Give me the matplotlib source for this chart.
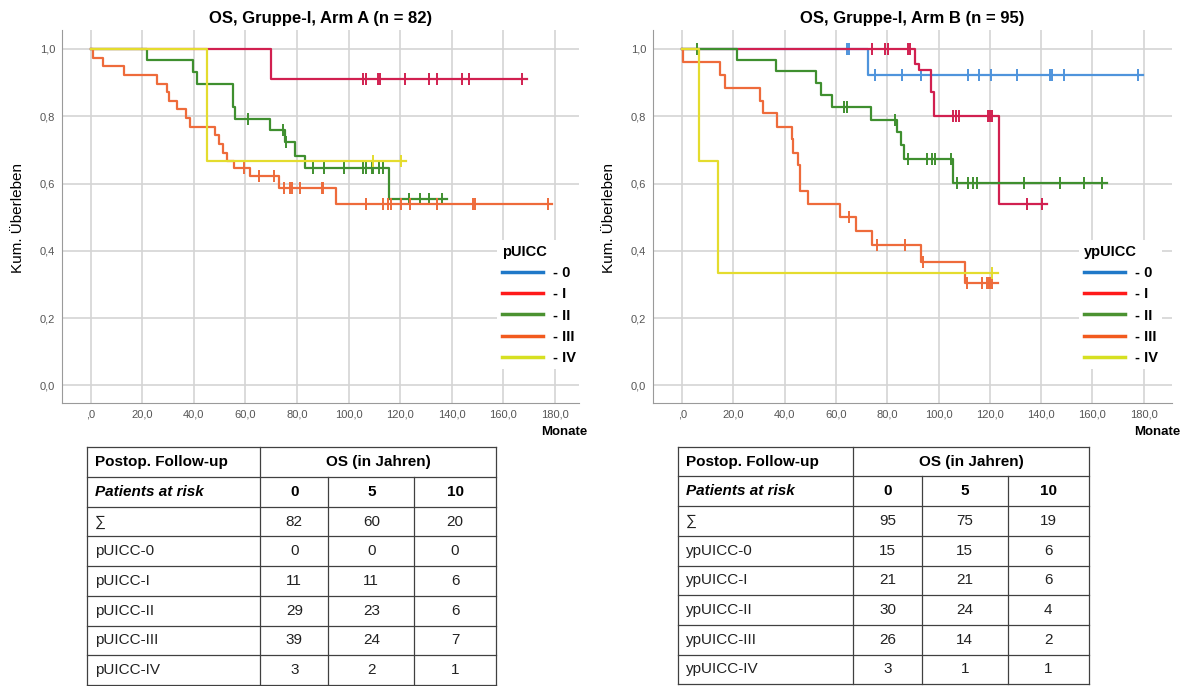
import numpy as np
import matplotlib
matplotlib.use("Agg")
import matplotlib.pyplot as plt
from matplotlib.lines import Line2D

plt.rcParams["font.family"] = ["Liberation Sans", "DejaVu Sans"]

W, H = 1187, 686

# ---------------- Arm A (pUICC) : event times / survival after step / censored times / last follow-up
a0_t, a0_s, a0_c, a0_end = [], [], [], None
a1_t = [0, 70.0]
a1_s = [1.0, 0.909]
a1_c = [105.7, 106.6, 111.5, 112.1, 121.7, 131.1, 134.1, 143.8, 146.7, 167.3]
a1_end = 169.0
a2_t = [0, 22.0, 39.8, 41.1, 55.0, 56.0, 69.5, 75.3, 79.4, 83.0, 115.6]
a2_s = [1.0, 0.966, 0.931, 0.897, 0.828, 0.793, 0.758, 0.722, 0.683, 0.646, 0.553]
a2_c = [61.0, 74.6, 75.6, 86.3, 90.4, 98.2, 105.7, 106.6, 108.9, 109.5, 111.7, 113.4,
        123.4, 127.7, 131.2, 136.3]
a2_end = 138.2
a3_t = [0, 1.0, 4.6, 13.0, 25.6, 29.7, 30.3, 33.3, 36.9, 38.7, 48.3, 49.6, 51.4, 52.9,
        55.4, 61.8, 73.2, 95.1]
a3_s = [1.0, 0.974, 0.949, 0.923, 0.897, 0.872, 0.846, 0.821, 0.795, 0.769, 0.744, 0.718,
        0.692, 0.667, 0.647, 0.622, 0.587, 0.539]
a3_c = [59.3, 65.3, 71.2, 74.9, 77.4, 78.2, 81.1, 89.5, 90.2, 106.6, 113.2, 115.1, 116.4,
        120.2, 123.8, 134.1, 148.3, 149.0, 177.1]
a3_end = 179.0
a4_t = [0, 45.0]
a4_s = [1.0, 0.667]
a4_c = [109.5, 120.2]
a4_end = 122.2

# ---------------- Arm B (ypUICC)
b0_t = [0, 72.3]
b0_s = [1.0, 0.923]
b0_c = [64.4, 65.2, 75.2, 85.6, 93.2, 111.6, 115.8, 120.5, 130.5, 143.6, 144.2, 149.1, 177.7]
b0_end = 179.9
b1_t = [0, 90.8, 92.5, 96.9, 98.3, 123.6]
b1_s = [1.0, 0.955, 0.937, 0.871, 0.802, 0.539]
b1_c = [74.1, 79.3, 80.4, 88.0, 89.0, 105.8, 106.8, 108.0, 119.4, 120.0, 120.7, 134.6, 140.2]
b1_end = 142.2
b2_t = [0, 21.2, 36.6, 52.1, 54.1, 58.3, 73.6, 83.7, 85.2, 86.5, 105.8]
b2_s = [1.0, 0.967, 0.933, 0.900, 0.862, 0.827, 0.790, 0.753, 0.713, 0.674, 0.602]
b2_c = [5.9, 63.1, 64.2, 83.0, 88.2, 95.4, 97.3, 98.6, 104.7, 107.1, 111.6, 113.3, 115.1,
        133.3, 147.4, 156.8, 163.7]
b2_end = 165.6
b3_t = [0, 0.3, 14.7, 16.7, 30.3, 31.4, 36.8, 42.7, 43.1, 45.3, 45.9, 49.2, 61.5, 67.8,
        73.9, 93.3, 110.2]
b3_s = [1.0, 0.962, 0.923, 0.885, 0.846, 0.808, 0.769, 0.731, 0.692, 0.654, 0.577, 0.538,
        0.500, 0.459, 0.417, 0.367, 0.304]
b3_c = [65.0, 75.9, 86.8, 94.1, 111.1, 117.0, 119.0, 119.6, 120.1, 121.0]
b3_end = 123.3
b4_t = [0, 6.6, 13.8]
b4_s = [1.0, 0.667, 0.333]
b4_c = [120.7]
b4_end = 123.3

stage_labels = ["- 0", "- I", "- II", "- III", "- IV"]
x_ticks = [0, 20, 40, 60, 80, 100, 120, 140, 160, 180]
x_ticklabels = [",0", "20,0", "40,0", "60,0", "80,0", "100,0", "120,0", "140,0", "160,0", "180,0"]
y_ticks = [0.0, 0.2, 0.4, 0.6, 0.8, 1.0]
y_ticklabels = ["0,0", "0,2", "0,4", "0,6", "0,8", "1,0"]

# ---------------- risk tables
years = ["0", "5", "10"]
a_rows = ["\u2211", "pUICC-0", "pUICC-I", "pUICC-II", "pUICC-III", "pUICC-IV"]
a_risk = [[82, 60, 20], [0, 0, 0], [11, 11, 6], [29, 23, 6], [39, 24, 7], [3, 2, 1]]
b_rows = ["\u2211", "ypUICC-0", "ypUICC-I", "ypUICC-II", "ypUICC-III", "ypUICC-IV"]
b_risk = [[95, 75, 19], [15, 15, 6], [21, 21, 6], [30, 24, 4], [26, 14, 2], [3, 1, 1]]

line_colors = ["#4f94dc", "#d12050", "#3f8f2f", "#ee6b3b", "#e4dc2e"]
legend_colors = ["#1f78c8", "#ff1a1a", "#4b9231", "#f25a1e", "#d6e021"]


def km_plot(fig, rect, groups, title, legend_title, xlim, legend_xy):
    ax = fig.add_axes(rect)
    for color, (t, s, c, end) in zip(line_colors, groups):
        if len(t) == 0:
            continue
        ax.step(list(t) + [end], list(s) + [s[-1]], where="post", color=color, lw=1.6)
        idx = np.searchsorted(t, c, side="right") - 1
        ax.plot(c, np.asarray(s)[idx], ls="none", marker="|", ms=8, mew=1.4, color=color)

    ax.set_xlim(*xlim)
    ax.set_ylim(-0.052, 1.056)
    ax.set_xticks(x_ticks)
    ax.set_xticklabels(x_ticklabels)
    ax.set_yticks(y_ticks)
    ax.set_yticklabels(y_ticklabels)
    ax.grid(True, color="#d4d4d4", lw=1.2)
    ax.set_axisbelow(True)
    for side in ["top", "right"]:
        ax.spines[side].set_visible(False)
    for side in ["left", "bottom"]:
        ax.spines[side].set_color("#9a9a9a")
    ax.tick_params(length=0, labelsize=8, labelcolor="#555555", pad=5)

    handles = [Line2D([], [], color=c, lw=2.5) for c in legend_colors]
    ax.legend(handles, stage_labels, title=legend_title, loc="upper left",
              bbox_to_anchor=(legend_xy[0] / W, 1 - legend_xy[1] / H),
              bbox_transform=fig.transFigure, frameon=True, facecolor="white",
              edgecolor="none", framealpha=1, fancybox=False,
              prop={"weight": "bold", "size": 10.5},
              title_fontproperties={"weight": "bold", "size": 10.5},
              handlelength=2.8, handletextpad=0.7, labelspacing=0.5,
              borderpad=0.3, alignment="left")

    cx = (rect[0] + rect[2] / 2)
    fig.text(cx, 1 - 18 / H, title, ha="center", va="center", fontsize=12, weight="bold")
    fig.text(rect[0] - 44 / W, 1 - 218 / H, "Kum. \u00dcberleben", rotation=90,
             ha="center", va="center", fontsize=11)
    fig.text(rect[0] + rect[2] + 8 / W, 1 - 432 / H, "Monate", ha="right", va="center",
             fontsize=9.5, weight="bold")
    return ax


def risk_table(ax, x_edges, top, row_h, rows, risk):
    n_rows = len(rows) + 2
    bottom = top + n_rows * row_h
    lc, lw = "#404040", 0.9
    for i in range(n_rows + 1):
        ax.plot([x_edges[0], x_edges[-1]], [top + i * row_h] * 2, color=lc, lw=lw)
    ax.plot([x_edges[0]] * 2, [top, bottom], color=lc, lw=lw)
    ax.plot([x_edges[-1]] * 2, [top, bottom], color=lc, lw=lw)
    ax.plot([x_edges[1]] * 2, [top, bottom], color=lc, lw=lw)
    for xe in x_edges[2:-1]:
        ax.plot([xe] * 2, [top + row_h, bottom], color=lc, lw=lw)

    fs = 11
    tx = x_edges[0] + 8
    ymid = top + row_h / 2
    ax.text(tx, ymid, "Postop. Follow-up", ha="left", va="center", fontsize=fs, weight="bold")
    ax.text((x_edges[1] + x_edges[-1]) / 2, ymid, "OS (in Jahren)", ha="center",
            va="center", fontsize=fs, weight="bold")
    ymid += row_h
    ax.text(tx, ymid, "Patients at risk", ha="left", va="center", fontsize=fs,
            weight="bold", style="italic")
    for j, y in enumerate(years):
        ax.text((x_edges[j + 1] + x_edges[j + 2]) / 2, ymid, y, ha="center", va="center",
                fontsize=fs, weight="bold")
    for name, vals in zip(rows, risk):
        ymid += row_h
        ax.text(tx, ymid, name, ha="left", va="center", fontsize=fs, color="#222222")
        for j, v in enumerate(vals):
            ax.text((x_edges[j + 1] + x_edges[j + 2]) / 2, ymid, str(v), ha="center",
                    va="center", fontsize=fs, color="#222222")


fig = plt.figure(figsize=(W / 100, H / 100), dpi=100)

ax_top, ax_bot = 30, 403
left_rect = [62 / W, 1 - ax_bot / H, (579 - 62) / W, (ax_bot - ax_top) / H]
right_rect = [653 / W, 1 - ax_bot / H, (1172 - 653) / W, (ax_bot - ax_top) / H]

groups_a = [(a0_t, a0_s, a0_c, a0_end), (a1_t, a1_s, a1_c, a1_end),
            (a2_t, a2_s, a2_c, a2_end), (a3_t, a3_s, a3_c, a3_end),
            (a4_t, a4_s, a4_c, a4_end)]
groups_b = [(b0_t, b0_s, b0_c, b0_end), (b1_t, b1_s, b1_c, b1_end),
            (b2_t, b2_s, b2_c, b2_end), (b3_t, b3_s, b3_c, b3_end),
            (b4_t, b4_s, b4_c, b4_end)]

km_plot(fig, left_rect, groups_a, "OS, Gruppe-I, Arm A (n = 82)", "pUICC",
        (-11.1, 189.3), (490, 233))
km_plot(fig, right_rect, groups_b, "OS, Gruppe-I, Arm B (n = 95)", "ypUICC",
        (-11.4, 191.1), (1072, 233))

tab = fig.add_axes([0, 0, 1, 1], zorder=-1)
tab.set_xlim(0, W)
tab.set_ylim(H, 0)
tab.axis("off")
risk_table(tab, [86.7, 260.3, 328.3, 414.3, 495.7], 447.3, 29.7, a_rows, a_risk)
risk_table(tab, [678.3, 853.3, 921.7, 1007.7, 1089.0], 446.7, 29.7, b_rows, b_risk)

fig.savefig("out.png", dpi=100)
